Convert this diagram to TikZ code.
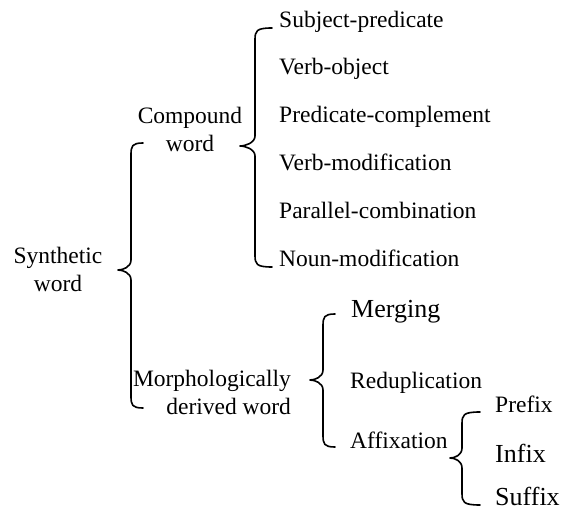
\documentclass[tikz,border=0pt]{standalone}
\usepackage{fontspec}
\setmainfont{Liberation Serif}
\tikzset{
  lbl/.style={inner sep=0pt, anchor=base west, font=\fontsize{23.5}{28}\selectfont},
  biglbl/.style={inner sep=0pt, anchor=base west, font=\fontsize{26}{30}\selectfont},
  grp/.style={inner sep=0pt, anchor=center, font=\fontsize{23.5}{28}\selectfont},
  bracestyle/.style={line width=1.6pt, line cap=round, line join=round}
}
% hook-x, line-x, tip-x, top-y, tip-y, bottom-y
\newcommand\curlybrace[6]{%
  \draw[bracestyle] (#1,#4) .. controls (#2+1,#4) and (#2,#4+3) .. (#2,#4+12)
    -- (#2,#5-10) .. controls (#2,#5-3) and (#3+5,#5) .. (#3,#5)
    .. controls (#3+5,#5) and (#2,#5+3) .. (#2,#5+10)
    -- (#2,#6-12) .. controls (#2,#6-3) and (#2+1,#6) .. (#1,#6);}
\begin{document}
\begin{tikzpicture}[x=1pt,y=-1pt]
\useasboundingbox (0,0) rectangle (567,510);
% left group labels
\node[grp, align=center] (syn) at (58,269) {Synthetic\\word};
\node[grp, align=center] (cmp) at (190,129) {Compound\\word};
\node[grp, align=right] (mor) at (212,392) {Morphologically\\derived word};
% compound word items
\node[lbl] (sp) at (279,28) {Subject-predicate};
\node[lbl] (vo) at (279,75) {Verb-object};
\node[lbl] (pc) at (279,123) {Predicate-complement};
\node[lbl] (vm) at (279,171) {Verb-modification};
\node[lbl] (pa) at (279,219) {Parallel-combination};
\node[lbl] (nm) at (279,267) {Noun-modification};
% derived word items
\node[biglbl] (me) at (351,317) {Merging};
\node[lbl] (re) at (350,388) {Reduplication};
\node[lbl] (af) at (350,448) {Affixation};
% affixation items
\node[lbl] (pr) at (495,412) {Prefix};
\node[biglbl] (in) at (495,462) {Infix};
\node[biglbl] (su) at (495,505) {Suffix};
% braces
\curlybrace{143}{131}{118}{143}{270}{408}
\curlybrace{272}{255}{240}{28}{146}{267}
\curlybrace{335}{323}{310}{314}{380}{447}
\curlybrace{480}{462}{450}{412}{458}{505}
\end{tikzpicture}
\end{document}
